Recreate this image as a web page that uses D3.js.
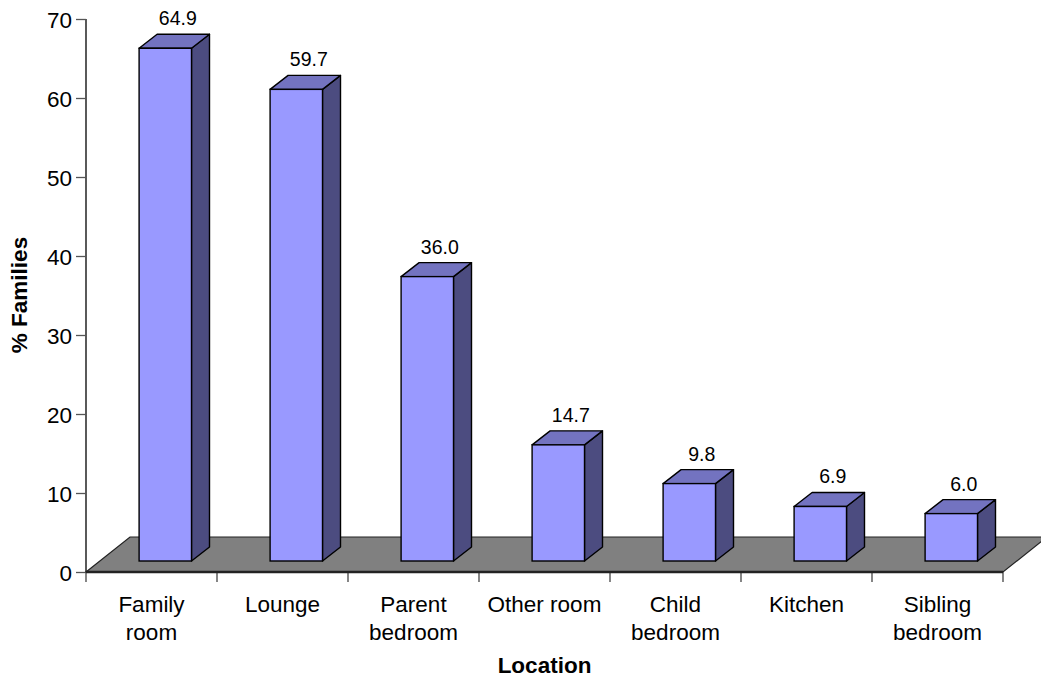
<!DOCTYPE html>
<html>
<head>
<meta charset="utf-8">
<script src="https://cdn.jsdelivr.net/npm/d3@7"></script>
<style>
  html, body { margin: 0; padding: 0; background: #fff; }
  svg { display: block; }
  text { font-family: "Liberation Sans", Arial, sans-serif; fill: #000; }
</style>
</head>
<body>
<svg id="chart" width="1041" height="679"></svg>
<script>
// ---- data ----
const categories = ["Family room", "Lounge", "Parent bedroom", "Other room", "Child bedroom", "Kitchen", "Sibling bedroom"];
const categoryLines = [["Family", "room"], ["Lounge"], ["Parent", "bedroom"], ["Other room"], ["Child", "bedroom"], ["Kitchen"], ["Sibling", "bedroom"]];
const values = [64.9, 59.7, 36.0, 14.7, 9.8, 6.9, 6.0];
const yTicks = [0, 10, 20, 30, 40, 50, 60, 70];
const yTitle = "% Families";
const xTitle = "Location";

// ---- layout ----
const svg = d3.select("#chart");
const x0 = 86, x1 = 1003, yBase = 572, yTop = 19;
const floorDx = 44, floorDy = -35;        // floor depth vector
const barOffX = 13.8, barOffY = -11;      // bar front face offset into depth
const barDx = 18, barDy = -14;            // bar depth vector

const x = d3.scaleBand().domain(categories).range([x0, x1]).paddingInner(0).paddingOuter(0);
const y = d3.scaleLinear().domain([0, 70]).range([yBase, yTop]);
const barW = x.bandwidth() * 0.4;

// floor
svg.append("path")
  .attr("d", `M${x0},${yBase} L${x0 + floorDx},${yBase + floorDy} L${x1 + floorDx},${yBase + floorDy} L${x1},${yBase} Z`)
  .attr("fill", "#808080")
  .attr("stroke", "#222")
  .attr("stroke-width", 1.2);

// y axis
const yAxis = d3.axisLeft(y).tickValues(yTicks).tickSize(10).tickPadding(4).tickFormat(d3.format("d"));
const gy = svg.append("g").attr("transform", `translate(${x0},0)`).call(yAxis);
gy.select(".domain").attr("stroke", "#000").attr("stroke-width", 1.3).attr("d", `M0,${yTop}V${yBase}`);
gy.selectAll(".tick line").attr("stroke", "#555").attr("stroke-width", 1.3);
gy.selectAll(".tick text")
  .style("font-family", "'Liberation Sans', Arial, sans-serif")
  .style("font-size", "22.5px")
  .attr("fill", "#000")
  .attr("dy", "0.38em");

// x axis ticks (category boundaries)
const boundaries = categories.map(c => x(c)).concat([x1]);
svg.append("g").selectAll("line").data(boundaries).join("line")
  .attr("x1", d => d).attr("x2", d => d)
  .attr("y1", yBase).attr("y2", yBase + 10)
  .attr("stroke", "#444").attr("stroke-width", 1.3);

// front floor edge (x axis line)
svg.append("line")
  .attr("x1", x0).attr("x2", x1).attr("y1", yBase).attr("y2", yBase)
  .attr("stroke", "#222").attr("stroke-width", 2.6);

// bars
const bars = svg.append("g").selectAll("g").data(values).join("g");
bars.each(function (v, i) {
  const g = d3.select(this);
  const cx = x(categories[i]) + x.bandwidth() / 2 + barOffX;
  const left = cx - barW / 2, right = cx + barW / 2;
  const bottom = y(0) + barOffY, top = y(v) + barOffY;
  // side
  g.append("path")
    .attr("d", `M${right},${bottom} L${right + barDx},${bottom + barDy} L${right + barDx},${top + barDy} L${right},${top} Z`)
    .attr("fill", "#4C4C80").attr("stroke", "#000").attr("stroke-width", 1.4).attr("stroke-linejoin", "round");
  // top
  g.append("path")
    .attr("d", `M${left},${top} L${left + barDx},${top + barDy} L${right + barDx},${top + barDy} L${right},${top} Z`)
    .attr("fill", "#7373C0").attr("stroke", "#000").attr("stroke-width", 1.4).attr("stroke-linejoin", "round");
  // front
  g.append("rect")
    .attr("x", left).attr("y", top).attr("width", barW).attr("height", bottom - top)
    .attr("fill", "#9999FF").attr("stroke", "#000").attr("stroke-width", 1.4);
  // value label
  g.append("text")
    .attr("x", cx + 12.5).attr("y", top - 23)
    .attr("text-anchor", "middle")
    .style("font-size", "19.5px")
    .text(d3.format(".1f")(v));
});

// category labels
const lab = svg.append("g").selectAll("text").data(categories).join("text")
  .attr("text-anchor", "middle")
  .style("font-size", "22.5px");
lab.each(function (c, i) {
  const t = d3.select(this);
  categoryLines[i].forEach((ln, k) => {
    t.append("tspan")
      .attr("x", x(c) + x.bandwidth() / 2)
      .attr("y", 612 + k * 28)
      .text(ln);
  });
});

// axis titles
svg.append("text")
  .attr("x", (x0 + x1) / 2).attr("y", 673)
  .attr("text-anchor", "middle")
  .style("font-size", "22.5px").style("font-weight", "bold")
  .text(xTitle);

svg.append("text")
  .attr("transform", "translate(27,295) rotate(-90)")
  .attr("text-anchor", "middle")
  .style("font-size", "22.5px").style("font-weight", "bold")
  .text(yTitle);
</script>
</body>
</html>
